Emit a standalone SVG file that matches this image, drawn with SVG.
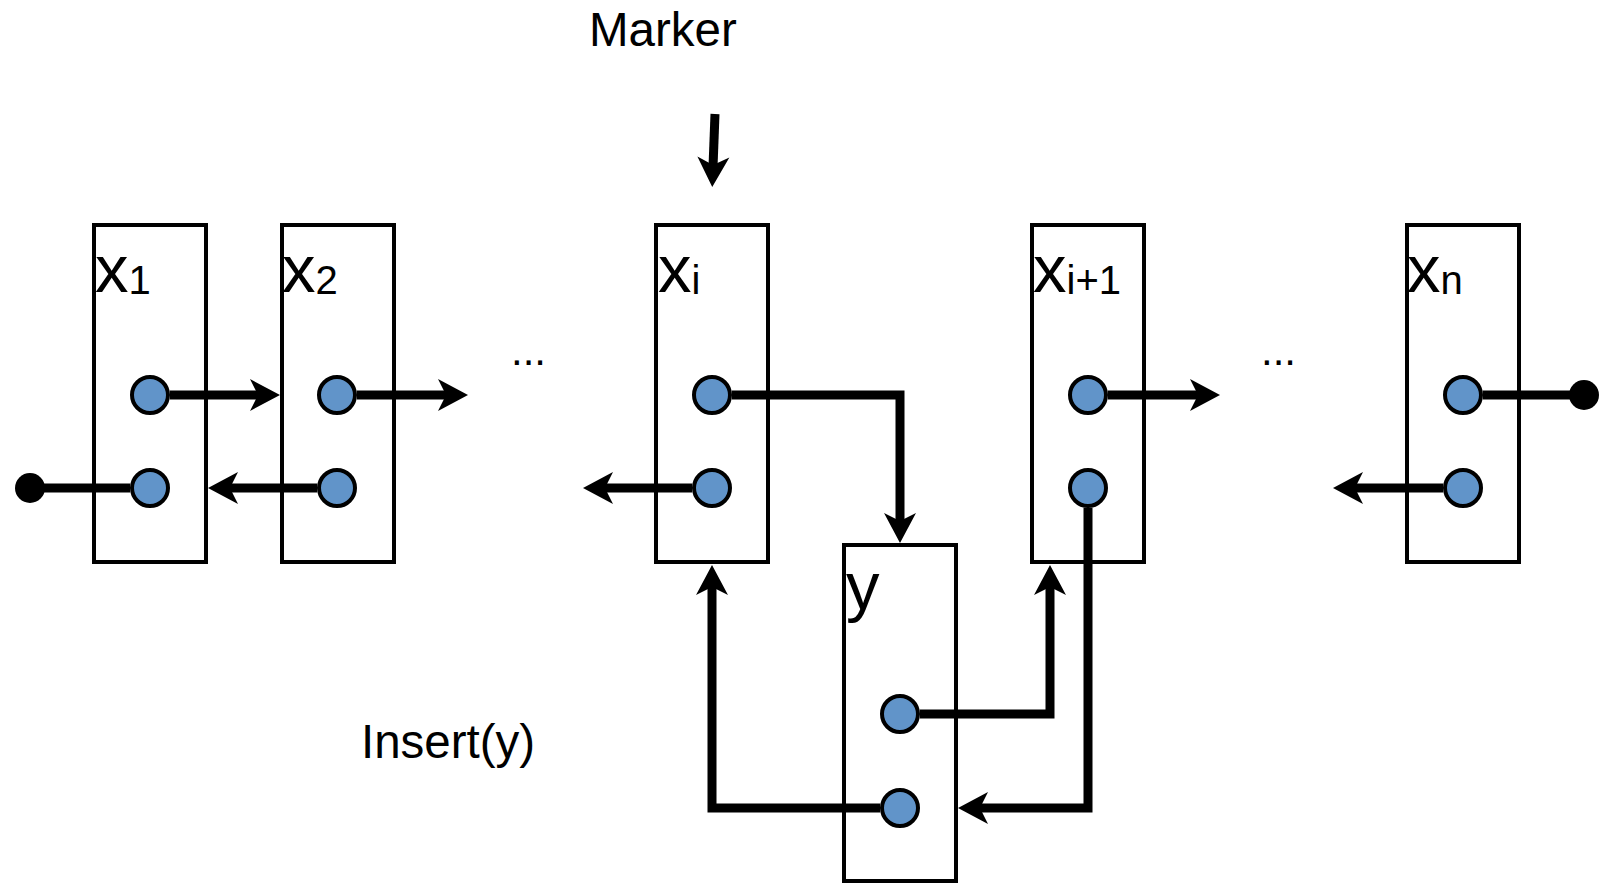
<svg xmlns="http://www.w3.org/2000/svg" width="1602" height="883" viewBox="0 0 1602 883">
<defs>
<style>
.box{fill:none;stroke:#000;stroke-width:4}
.port{fill:#6194C9;stroke:#000;stroke-width:4}
.edge{fill:none;stroke:#000;stroke-width:9;stroke-linejoin:miter}
.arr{marker-end:url(#arrow)}
.lbl{font-family:"Liberation Sans",Arial,sans-serif;font-size:47.5px;fill:#000}
.big{font-family:"Liberation Sans",Arial,sans-serif;font-size:67px;fill:#000}
.sub{font-size:40px}
.dots{font-family:"Liberation Sans",Arial,sans-serif;font-size:42px;fill:#000}
</style>
<marker id="arrow" markerUnits="userSpaceOnUse" markerWidth="40" markerHeight="40" viewBox="-12 -20 40 40" refX="0" refY="0" orient="auto" overflow="visible">
<path d="M-10,-16 L20,0 L-10,16 L-2,0 Z" fill="#000"/>
</marker>
</defs>
<rect width="1602" height="883" fill="#fff"/>

<g id="connectors">
<path class="edge arr" d="M170,395 H260"/>
<path class="edge arr" d="M357,395 H448"/>
<path class="edge arr" d="M317,488 H228"/>
<path class="edge" d="M130,488 H30"/>
<circle cx="30" cy="488" r="15" fill="#000"/>
<path class="edge arr" d="M732,395 H900 V523"/>
<path class="edge arr" d="M692,488 H603"/>
<path class="edge arr" d="M715,114 L713,167"/>
<path class="edge arr" d="M880,808 H712 V585"/>
<path class="edge arr" d="M920,714 H1050 V585"/>
<path class="edge arr" d="M1088,508 V808 H978"/>
<path class="edge arr" d="M1108,395 H1200"/>
<path class="edge" d="M1483,395 H1584"/>
<circle cx="1584" cy="395" r="15" fill="#000"/>
<path class="edge arr" d="M1443,488 H1353"/>
</g>

<g id="node-x1">
<rect class="box" x="94" y="225" width="112" height="337"/>
<text class="big" x="95" y="292">x<tspan class="sub" dy="2">1</tspan></text>
<circle class="port" cx="150" cy="395" r="18"/>
<circle class="port" cx="150" cy="488" r="18"/>
</g>
<g id="node-x2">
<rect class="box" x="282" y="225" width="112" height="337"/>
<text class="big" x="282" y="292">x<tspan class="sub" dy="2">2</tspan></text>
<circle class="port" cx="337" cy="395" r="18"/>
<circle class="port" cx="337" cy="488" r="18"/>
</g>
<g id="node-xi">
<rect class="box" x="656" y="225" width="112" height="337"/>
<text class="big" x="658" y="292">x<tspan class="sub" dy="2">i</tspan></text>
<circle class="port" cx="712" cy="395" r="18"/>
<circle class="port" cx="712" cy="488" r="18"/>
</g>
<g id="node-xi1">
<rect class="box" x="1032" y="225" width="112" height="337"/>
<text class="big" x="1033" y="292">x<tspan class="sub" dy="2">i+1</tspan></text>
<circle class="port" cx="1088" cy="395" r="18"/>
<circle class="port" cx="1088" cy="488" r="18"/>
</g>
<g id="node-xn">
<rect class="box" x="1407" y="225" width="112" height="337"/>
<text class="big" x="1407" y="292">x<tspan class="sub" dy="2">n</tspan></text>
<circle class="port" cx="1463" cy="395" r="18"/>
<circle class="port" cx="1463" cy="488" r="18"/>
</g>
<g id="node-y">
<rect class="box" x="844" y="545" width="112" height="336"/>
<text class="big" x="846" y="609">y</text>
<circle class="port" cx="900" cy="714" r="18"/>
<circle class="port" cx="900" cy="808" r="18"/>
</g>

<g id="labels">
<text class="lbl" x="589" y="46">Marker</text>
<text class="lbl" x="361" y="758">Insert(y)</text>
<text class="dots" x="511" y="365">...</text>
<text class="dots" x="1261" y="365">...</text>
</g>
</svg>
